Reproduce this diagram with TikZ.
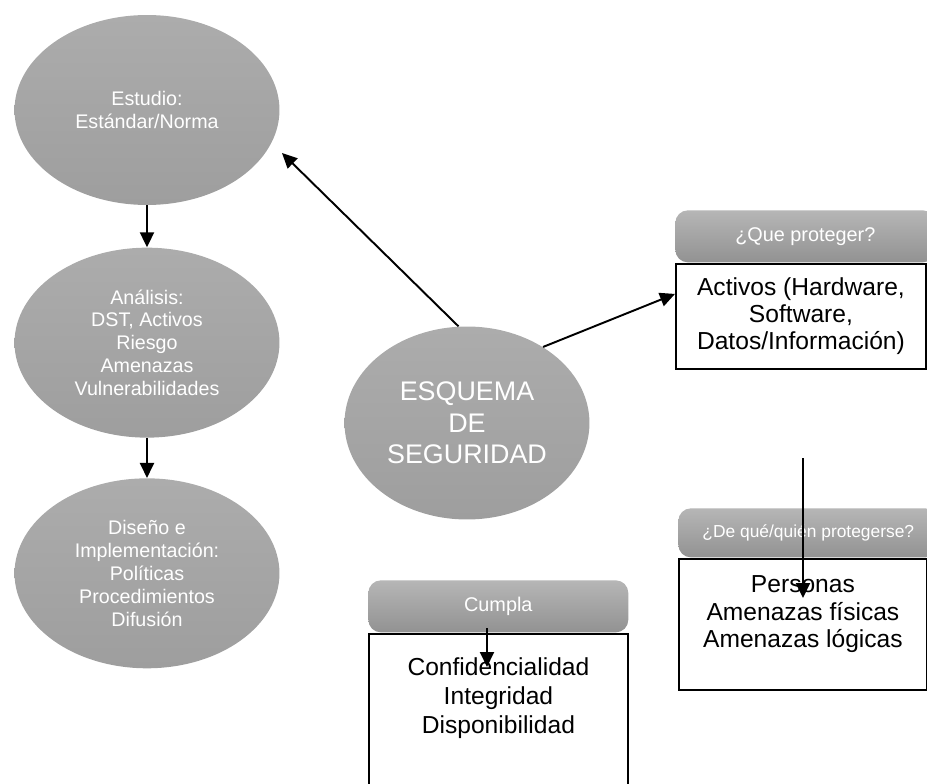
\documentclass[tikz,border=0pt]{standalone}
\usepackage{fontspec}
\setmainfont{Liberation Sans}
\usepackage{xcolor}
\usetikzlibrary{positioning,shapes.geometric,arrows.meta}

\definecolor{ell-top}{RGB}{172,172,172}
\definecolor{ell-bot}{RGB}{158,158,158}
\definecolor{head-top}{RGB}{182,182,182}
\definecolor{head-bot}{RGB}{146,146,146}

\begin{document}
\begin{tikzpicture}
[
x=0.02cm, y=-0.02cm,
ell-a/.style={ellipse, top color=ell-top, bottom color=ell-bot, text=white, align=center, inner sep=0mm, minimum width=53mm, minimum height=38mm, font=\fontsize{11.2}{13}\selectfont},
ell-b/.style={ell-a, minimum width=49mm, minimum height=38.6mm, font=\fontsize{15.3}{18}\selectfont},
head-a/.style={rectangle, rounded corners=2.5mm, top color=head-top, bottom color=head-bot, text=white, anchor=north west, minimum width=52mm, minimum height=10.4mm, font=\fontsize{11.3}{13}\selectfont},
box-a/.style={rectangle, draw=black, line width=1.1pt, fill=white, anchor=north west},
text-a/.style={black, align=center, inner sep=0mm, font=\fontsize{14}{15.6}\selectfont},
arr-a/.style={-{Triangle[length=3mm,width=2.8mm]}, line width=1.1pt}
]
\useasboundingbox (0,0) rectangle (927,784);
\node (estudio)   [ell-a] at (147,110)                       {Estudio:\\Estándar/Norma};
\node (analisis)  [ell-a, below = 08.40mm of estudio]        {Análisis:\\DST, Activos\\Riesgo\\Amenazas\\Vulnerabilidades};
\node (diseno)    [ell-a, below = 08.00mm of analisis]       {Diseño e\\Implementación:\\Políticas\\Procedimientos\\Difusión};
\node (esquema)   [ell-b] at (467,423)                       {ESQUEMA\\DE\\SEGURIDAD};
\node (head-que)  [head-a] at (675,210)                      {¿Que proteger?};
\node (box-que)   [box-a, minimum width=50mm, minimum height=21mm, below = 00.00mm of head-que.south west, anchor=north west] {};
\node (txt-que)   [text-a] at (box-que.center)               {Activos (Hardware,\\Software,\\Datos/Información)};
\node (head-quien)[head-a, minimum height=9.8mm, font=\fontsize{9.9}{12}\selectfont] at (678,508) {¿De qué/quién protegerse?};
\node (box-quien) [box-a, minimum width=49.6mm, minimum height=26.2mm, below = 00.00mm of head-quien.south west, anchor=north west] {};
\node (txt-quien) [text-a, below = 03.60mm of box-quien.north] {Personas\\Amenazas físicas\\Amenazas lógicas};
\node (head-cum)  [head-a] at (368,580)                      {Cumpla};
\node (box-cum)   [box-a, minimum width=51.8mm, minimum height=32mm, below = 00.00mm of head-cum.south west, anchor=north west] {};
\node (txt-cum)   [text-a, text=black, below = 05.00mm of box-cum.north, font=\fontsize{14}{16.4}\selectfont] {Confidencialidad\\Integridad\\Disponibilidad};
\coordinate (est-tip)   at (282,153);
\coordinate (quien-in)  at (803,458);
\coordinate (quien-tip) at (803,598);
\coordinate (cum-in)    at (487,628);
\coordinate (cum-tip)   at (487,667);
\draw [arr-a] (estudio.south) -- (estudio.south |- analisis.north);
\draw [arr-a] (analisis.south) -- (analisis.south |- diseno.north);
\draw [arr-a] (esquema.95) -- (est-tip);
\draw [arr-a] (esquema.45) -- (box-que.170);
\draw [arr-a] (quien-in) -- (quien-tip);
\draw [arr-a] (cum-in) -- (cum-tip);
\end{tikzpicture}
\end{document}
